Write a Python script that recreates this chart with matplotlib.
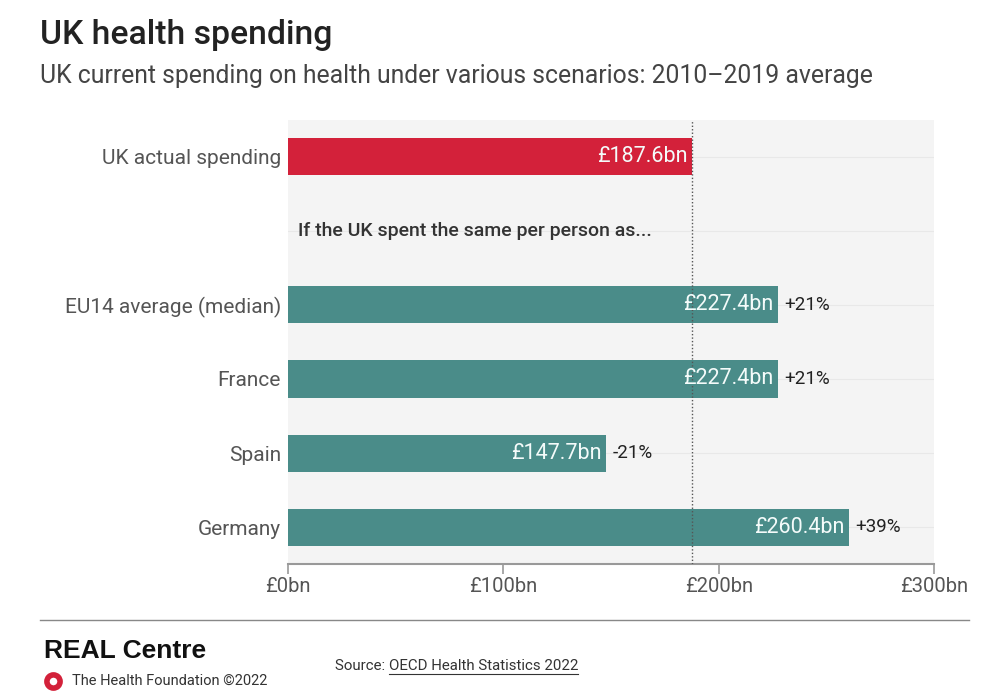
import matplotlib
matplotlib.use("Agg")
import matplotlib.pyplot as plt
from matplotlib.lines import Line2D

# data
categories = ["UK actual spending", "EU14 average (median)", "France", "Spain", "Germany"]
spending = [187.6, 227.4, 227.4, 147.7, 260.4]
change_labels = ["", "+21%", "+21%", "-21%", "+39%"]
rows = [0, 2, 3, 4, 5]
xticks = [0, 100, 200, 300]
xtick_labels = ["£0bn", "£100bn", "£200bn", "£300bn"]

RED = "#d3213a"
TEAL = "#4a8c89"
plt.rcParams["font.family"] = ["Roboto", "DejaVu Sans"]

fig = plt.figure(figsize=(10, 7), dpi=100)
ax = fig.add_axes([0.288, 0.194, 0.646, 0.635])
ax.set_facecolor("#f4f4f4")

colors = [RED] + [TEAL] * 4
ax.barh(rows, spending, height=0.5, color=colors, zorder=2)

for r in range(6):
    ax.axhline(r, color="#e8e8e8", lw=0.8, zorder=1)

ax.axvline(spending[0], color="#555555", lw=1, ls=(0, (1, 1.5)), zorder=3)

for r, v, ch in zip(rows, spending, change_labels):
    ax.text(v - 2, r, f"£{v:.1f}bn", ha="right", va="center", color="#f4fbfa",
            fontsize=15.5, zorder=4)
    if ch:
        ax.text(v + 3, r, ch, ha="left", va="center", color="#222222",
                fontsize=13.5, zorder=4)

ax.text(4.5, 1, "If the UK spent the same per person as...", ha="left", va="center",
        fontsize=14, color="#333333", fontweight="medium")

ax.set_xlim(0, 300)
ax.set_ylim(5.5, -0.5)
ax.set_yticks(rows)
ax.set_yticklabels(categories, fontsize=15, color="#555555")
ax.tick_params(axis="y", length=0, pad=5)
ax.set_xticks(xticks)
ax.set_xticklabels(xtick_labels, fontsize=14.5, color="#555555")
ax.tick_params(axis="x", length=7, color="#999999", width=1.2, pad=2)
for s in ["top", "right", "left"]:
    ax.spines[s].set_visible(False)
ax.spines["bottom"].set_color("#999999")
ax.spines["bottom"].set_linewidth(1.5)

# titles
fig.text(0.040, 0.950, "UK health spending", fontsize=24.3, fontweight="medium",
         color="#222222", va="center")
fig.text(0.040, 0.891, "UK current spending on health under various scenarios: 2010–2019 average",
         fontsize=17.8, color="#444444", va="center")

# footer
fig.add_artist(Line2D([0.040, 0.969], [0.114, 0.114], color="#888888", lw=1))
fig.text(0.044, 0.070, "REAL Centre", fontsize=19, fontweight="bold", color="#111111",
         va="center", family=["Liberation Sans", "DejaVu Sans"])
fig.add_artist(Line2D([0.053], [0.027], marker="o", markersize=9.5, markerfacecolor="none",
                      markeredgecolor=RED, markeredgewidth=4))
fig.text(0.072, 0.027, "The Health Foundation ©2022", fontsize=10.5, color="#333333",
         va="center")
src = fig.text(0.335, 0.049, "Source: ", fontsize=10.8, color="#333333", va="center")
fig.canvas.draw()
bb = src.get_window_extent()
x0 = bb.x1 / fig.bbox.width
link = fig.text(x0, 0.049, "OECD Health Statistics 2022", fontsize=10.8, color="#333333",
                va="center")
fig.canvas.draw()
lb = link.get_window_extent()
uy = (lb.y0 - 1) / fig.bbox.height
fig.add_artist(Line2D([lb.x0 / fig.bbox.width, lb.x1 / fig.bbox.width], [uy, uy],
                      color="#333333", lw=0.8))

fig.savefig("out.png", dpi=100)
